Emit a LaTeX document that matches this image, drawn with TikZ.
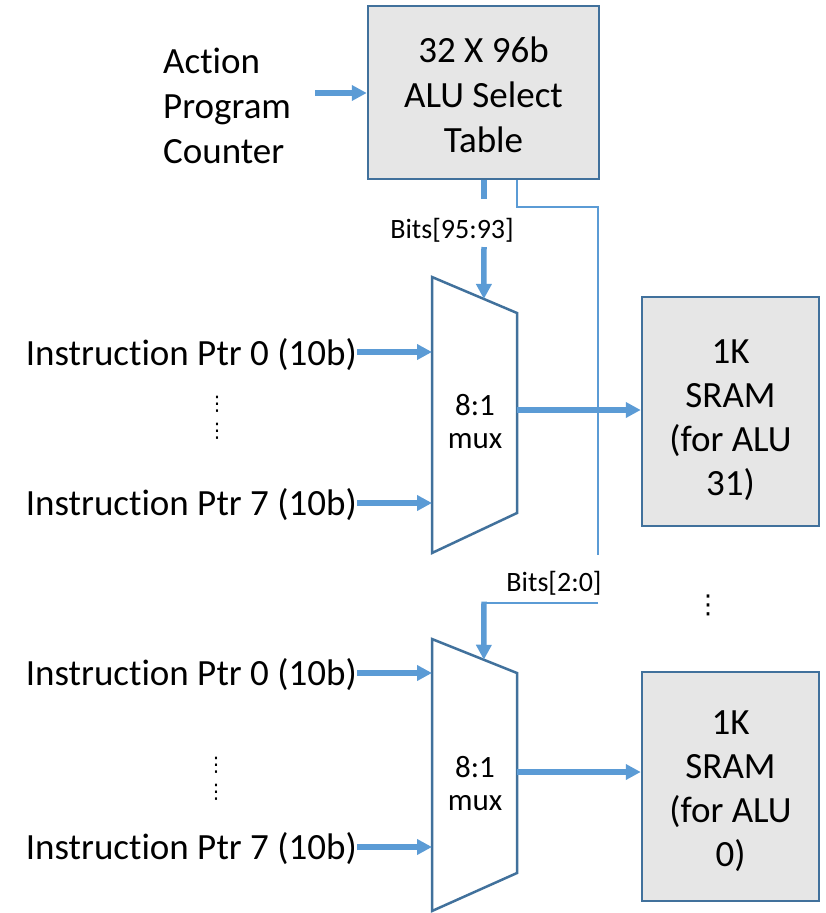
\documentclass[tikz,border=0pt]{standalone}
\usepackage{fontspec}
\setmainfont{Carlito}[Ligatures={NoCommon,NoRequired,NoContextual}]
\newfontfamily\djv{DejaVu Sans}
\usetikzlibrary{arrows.meta,calc}
\definecolor{arrblue}{HTML}{5B9BD5}
\definecolor{edgeblue}{HTML}{41719C}
\definecolor{boxgray}{HTML}{E6E6E6}
\begin{document}
\begin{tikzpicture}[x=1pt,y=-1pt,
  bigtxt/.style={font=\fontsize{37}{45}\selectfont},
  blk/.style={draw=edgeblue, fill=boxgray, line width=2.5pt, align=center, inner sep=0pt},
  blktxt/.style={font=\fontsize{37}{44}\selectfont, align=center, inner sep=0pt},
  muxshape/.style={draw=edgeblue, line width=2.5pt, fill=white, line join=miter},
  thickarr/.style={draw=arrblue, line width=5.5pt, -{Triangle[length=15pt,width=15pt]}},
  thickln/.style={draw=arrblue, line width=5.5pt},
  thinln/.style={draw=arrblue, line width=2pt},
  lbl/.style={font=\fontsize{28}{32}\selectfont, inner sep=0pt},
  muxtxt/.style={font=\fontsize{31}{33}\selectfont, align=center, inner sep=0pt},
  intxt/.style={bigtxt, inner sep=0pt, anchor=east},
  vdotsA/.style={font=\djv\fontsize{20}{24}\selectfont, inner sep=0pt},
  vdotsB/.style={font=\djv\fontsize{26}{30}\selectfont, inner sep=0pt}]
\useasboundingbox (0,0) rectangle (825,913);

% ALU select table and its input
\node[blk, minimum width=231pt, minimum height=173pt] (tab) at (483.5,92.5) {};
\node[blktxt, font=\fontsize{37}{45}\selectfont] (tabt) at (483.5,94.5) {32 X 96b\\ALU Select\\Table};
\node[bigtxt, align=left, anchor=west, inner sep=0pt] (apc) at (163,106) {Action\\Program\\Counter};
\coordinate (apcout) at (315,93);
\draw[thickarr] (apcout) -- (apcout -| tab.west);

% mux 1
\draw[muxshape] (432,277) coordinate (m1tl) -- (517,313) coordinate (m1tr)
  -- (517,513) coordinate (m1br) -- (432,553) coordinate (m1bl) -- cycle;
\node[muxtxt] (m1) at (475,421.5) {8:1\\mux};
\coordinate (m1sel) at ($(m1tl)!0.61!(m1tr)$);

% mux 2
\draw[muxshape] (432,639) coordinate (m2tl) -- (517,673) coordinate (m2tr)
  -- (517,873) coordinate (m2br) -- (432,911) coordinate (m2bl) -- cycle;
\node[muxtxt] (m2) at (475,783.5) {8:1\\mux};
\coordinate (m2sel) at ($(m2tl)!0.61!(m2tr)$);

% SRAMs
\node[blk, minimum width=177pt, minimum height=229pt] (s1) at (730.5,411.5) {};
\node[blktxt] (s1t) at (730.5,420) {1K\\SRAM\\(for ALU\\31)};
\node[blk, minimum width=177pt, minimum height=229pt] (s2) at (730.5,786.5) {};
\node[blktxt] (s2t) at (730.5,791.5) {1K\\SRAM\\(for ALU\\0)};

% inputs mux 1
\coordinate (m1in0) at (432,352);
\coordinate (m1in7) at (432,503);
\node[intxt] (i10) at (357,355) {Instruction Ptr 0 (10b)};
\node[intxt] (i17) at (357,505) {Instruction Ptr 7 (10b)};
\draw[thickarr] (i10.east |- m1in0) -- (m1in0);
\draw[thickarr] (i17.east |- m1in7) -- (m1in7);
\node[vdotsA] (d1a) at (217,404) {⋮};
\node[vdotsA] (d1b) at (217,431) {⋮};

% inputs mux 2
\coordinate (m2in0) at (432,673);
\coordinate (m2in7) at (432,847);
\node[intxt] (i20) at (357,675) {Instruction Ptr 0 (10b)};
\node[intxt] (i27) at (357,849) {Instruction Ptr 7 (10b)};
\draw[thickarr] (i20.east |- m2in0) -- (m2in0);
\draw[thickarr] (i27.east |- m2in7) -- (m2in7);
\node[vdotsA] (d2a) at (216,765) {⋮};
\node[vdotsA] (d2b) at (216,792) {⋮};

\node[vdotsB] (d3) at (708,605) {⋮};

% select bits for mux 1
\node[lbl] (b1) at (452,230) {Bits[95:93]};
\coordinate (b1top) at (484,199);
\coordinate (b1bot) at (484,247);
\draw[thickln] (b1top |- tab.south) -- (b1top);
\draw[thickarr] (b1bot) -- (m1sel);

% select bits for mux 2
\coordinate (j1) at (598,207);
\coordinate (j2) at (598,555);
\coordinate (j3) at (598,603);
\coordinate (j4) at (484,603);
\draw[thinln] (m1tr |- tab.south) |- (j1) -- (j2);
\node[lbl] (b2) at (554,583) {Bits[2:0]};
\draw[thinln] (j3) -- (j4);
\draw[thickarr] ([yshift=1.5pt]j4) -- (m2sel);

% mux outputs
\coordinate (m1out) at (517,410);
\coordinate (m2out) at (517,772);
\draw[thickarr] (m1out) -- (m1out -| s1.west);
\draw[thickarr] (m2out) -- (m2out -| s2.west);
\end{tikzpicture}
\end{document}
